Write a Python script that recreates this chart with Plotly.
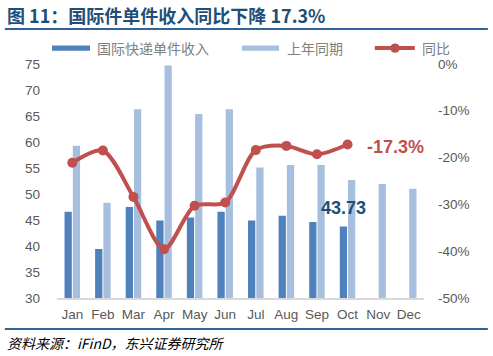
import plotly.graph_objects as go

months = ["Jan", "Feb", "Mar", "Apr", "May", "Jun", "Jul", "Aug", "Sep", "Oct", "Nov", "Dec"]
income = [46.6, 39.4, 47.5, 44.9, 45.5, 46.6, 44.9, 45.8, 44.6, 43.73, None, None]
last_year = [59.3, 48.3, 66.3, 74.7, 65.4, 66.3, 55.1, 55.6, 55.6, 52.7, 51.9, 51.0]
yoy = [-21.1, -18.5, -28.4, -39.6, -30.3, -29.6, -18.4, -17.5, -19.3, -17.2]
yoy_ticks = [0, -10, -20, -30, -40, -50]
yoy_tick_labels = ["0%", "-10%", "-20%", "-30%", "-40%", "-50%"]

names = ["国际快递单件收入", "上年同期", "同比"]
title_text = "图 11：国际件单件收入同比下降 17.3%"
source_text = "资料来源：iFinD，东兴证券研究所"

DARK = "#4F81BD"
LIGHT = "#A7BFDE"
RED = "#C0504D"
NAVY = "#1F4E79"
GRAY = "#595959"
FONT = "Liberation Sans, Noto Sans CJK SC, sans-serif"
CJK = "Noto Sans CJK SC, sans-serif"

fig = go.Figure()
fig.add_trace(go.Bar(x=months, y=income, name=names[0], marker=dict(color=DARK, line=dict(width=0))))
fig.add_trace(go.Bar(x=months, y=last_year, name=names[1], marker=dict(color=LIGHT, line=dict(width=0))))
fig.add_trace(go.Scatter(x=months[:len(yoy)], y=yoy, name=names[2], yaxis="y2", mode="lines+markers",
                         line=dict(color=RED, width=4, shape="spline", smoothing=0.8),
                         marker=dict(color=RED, size=10)))

fig.add_annotation(x=months[9], y=income[9], text="<b>%.2f</b>" % income[9], showarrow=False,
                   xshift=-4, yshift=19, font=dict(size=18, color=NAVY, family=FONT))
fig.add_annotation(x=months[9], y=-17.3, yref="y2", text="<b>-17.3%</b>", showarrow=False,
                   xanchor="left", xshift=17, yshift=-2, font=dict(size=18, color=RED, family=FONT))

# right axis labels (left-aligned like the original)
for v, t in zip(yoy_ticks, yoy_tick_labels):
    fig.add_annotation(xref="paper", yref="y2", x=1.033, y=v, xanchor="left", yanchor="middle",
                       text=t, showarrow=False, font=dict(size=13.5, color=GRAY, family=FONT))

# title, rules, source
fig.add_annotation(xref="paper", yref="paper", x=-0.142, y=1.209, xanchor="left", yanchor="middle",
                   text="<b>" + title_text + "</b>", showarrow=False,
                   font=dict(size=18, color=NAVY, family=CJK))
fig.add_annotation(xref="paper", yref="paper", x=-0.142, y=-0.192, xanchor="left", yanchor="middle",
                   text="<i>" + source_text + "</i>", showarrow=False,
                   font=dict(size=14, color="#000000", family=CJK))
fig.add_shape(type="line", xref="paper", yref="paper", x0=-0.142, x1=1.174, y0=1.150, y1=1.150,
              line=dict(color="#2F6496", width=2))
fig.add_shape(type="line", xref="paper", yref="paper", x0=-0.142, x1=1.174, y0=-0.132, y1=-0.132,
              line=dict(color="#2F6496", width=2))

# custom legend
ly = 1.068
fig.add_shape(type="rect", xref="paper", yref="paper", x0=-0.0136, x1=0.0899, y0=ly - 0.011, y1=ly + 0.011,
              fillcolor=DARK, line=dict(width=0))
fig.add_shape(type="rect", xref="paper", yref="paper", x0=0.504, x1=0.605, y0=ly - 0.011, y1=ly + 0.011,
              fillcolor=LIGHT, line=dict(width=0))
fig.add_shape(type="line", xref="paper", yref="paper", x0=0.866, x1=0.975, y0=ly, y1=ly,
              line=dict(color=RED, width=4))
fig.add_shape(type="circle", xref="paper", yref="paper", x0=0.921 - 0.013, x1=0.921 + 0.013,
              y0=ly - 0.02, y1=ly + 0.02, fillcolor=RED, line=dict(width=0))
for xx, nm in zip([0.1035, 0.621, 0.989], names):
    fig.add_annotation(xref="paper", yref="paper", x=xx, y=ly, xanchor="left", yanchor="middle",
                       text=nm, showarrow=False, font=dict(size=14, color="#808080", family=CJK))

fig.update_layout(
    width=493, height=356,
    margin=dict(l=57, r=69, t=64, b=58, autoexpand=False),
    paper_bgcolor="white", plot_bgcolor="white",
    barmode="group", bargap=0.46, bargroupgap=0.12,
    font=dict(family=FONT, size=13, color=GRAY),
    showlegend=False,
    xaxis=dict(range=[-0.5, len(months) - 0.5], autorange=False, showline=True, linecolor="#D9D9D9",
               linewidth=2, ticks="", showgrid=False, ticklabelstandoff=3,
               tickfont=dict(size=13.5, color=GRAY)),
    yaxis=dict(range=[30, 75], dtick=5, showgrid=False, showline=False, ticks="", zeroline=False,
               ticklabelstandoff=16, tickfont=dict(size=13.5, color=GRAY)),
    yaxis2=dict(range=[-50, 0], tickvals=yoy_ticks, overlaying="y", side="right",
                showgrid=False, showline=False, ticks="", zeroline=False, showticklabels=False),
)

fig.write_html("out.html", config={"displayModeBar": False},
               post_script="document.body.style.margin='0';")
